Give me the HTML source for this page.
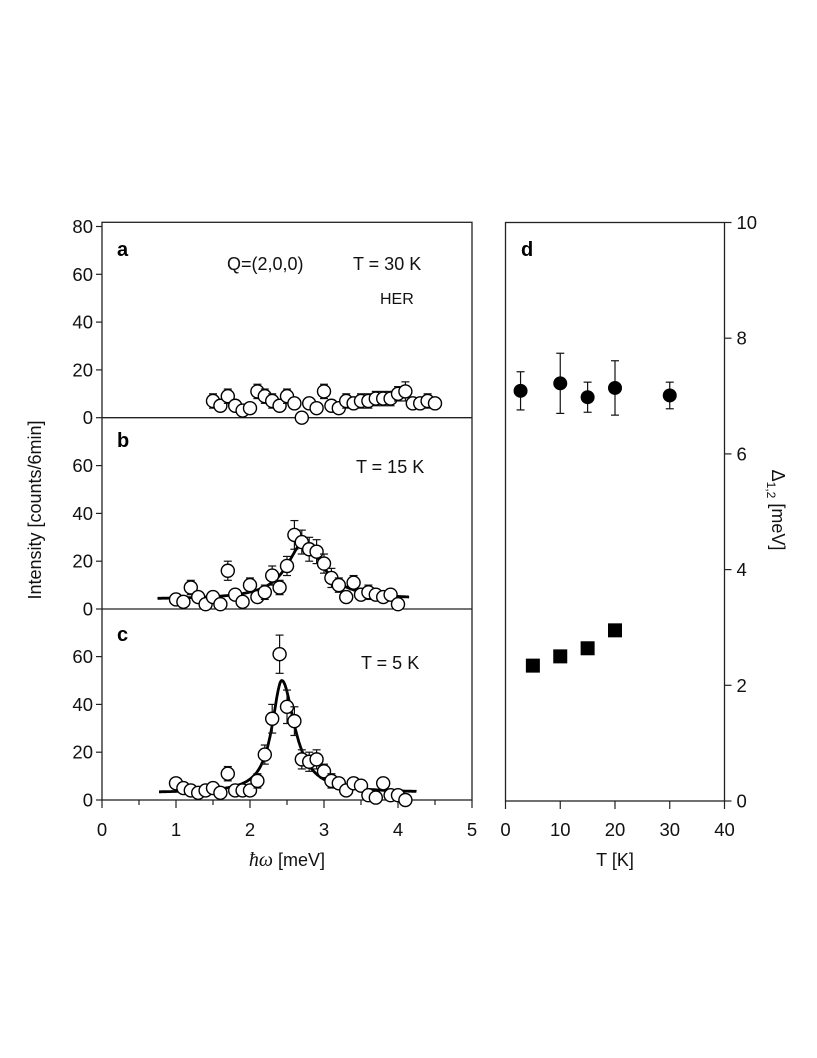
<!DOCTYPE html>
<html><head><meta charset="utf-8"><style>
html,body{margin:0;padding:0;background:#fff;}
svg{display:block;font-family:"Liberation Sans",sans-serif;}
</style></head><body>
<svg id="chart" width="817" height="1058" viewBox="0 0 817 1058" xmlns="http://www.w3.org/2000/svg"></svg>
<script>
// ---- data ----
const aX=[1.5,1.6,1.7,1.8,1.9,2.0,2.1,2.2,2.3,2.4,2.5,2.6,2.7,2.8,2.9,3.0,3.1,3.2,3.3,3.4,3.5,3.6,3.7,3.8,3.9,4.0,4.1,4.2,4.3,4.4,4.5];
const aY=[7,5,9,5,3,4,11,9,7,5,9,6,0,6,4,11,5,4,7,6,7,7,8,8,8,10,11,6,6,7,6];
const aErr=[3,2,3,2,2,2,3,3,3,2,3,2,2,2,2,3,2,2,3,2,3,3,3,3,3,3,4,2,2,3,2];
const bX=[1.0,1.1,1.2,1.3,1.4,1.5,1.6,1.7,1.8,1.9,2.0,2.1,2.2,2.3,2.4,2.5,2.6,2.7,2.8,2.9,3.0,3.1,3.2,3.3,3.4,3.5,3.6,3.7,3.8,3.9,4.0];
const bY=[4,3,9,5,2,5,2,16,6,3,10,5,7,14,9,18,31,28,25,24,19,13,10,5,11,6,7,6,5,6,2];
const bErr=[2,2,3,2,2,2,2,4,2,2,3,2,3,4,3,4,6,5,5,5,4,4,3,2,3,2,3,2,2,2,2];
const cX=[1.0,1.1,1.2,1.3,1.4,1.5,1.6,1.7,1.8,1.9,2.0,2.1,2.2,2.3,2.4,2.5,2.6,2.7,2.8,2.9,3.0,3.1,3.2,3.3,3.4,3.5,3.6,3.7,3.8,3.9,4.0,4.1];
const cY=[7,5,4,3,4,5,3,11,4,4,4,8,19,34,61,39,33,17,16,17,12,8,7,4,7,6,2,1,7,2,2,0];
const cErr=[2,2,2,2,2,2,2,3,2,2,2,3,4,6,8,7,6,4,4,4,3,3,2,2,2,2,2,2,2,2,2,2];
// fit params: [baseline, amplitude, center, hwhmLeft, hwhmRight, xStart, xEnd]
const bFit=[4,24,2.73,0.28,0.3,0.75,4.15];
const cFit=[3,47,2.43,0.16,0.21,0.77,4.25];
const dCircT=[2.75,10,15,20,30];
const dCircV=[7.09,7.22,6.98,7.14,7.01];
const dCircE=[0.33,0.52,0.26,0.47,0.23];
const dSqT=[5,10,15,20];
const dSqV=[2.34,2.5,2.64,2.95];
const xTicks=[0,1,2,3,4,5];
const yTicksI=[0,20,40,60,80];
const tTicks=[0,10,20,30,40];
const dTicks=[0,2,4,6,8,10];

const svg=document.getElementById('chart');
const NS='http://www.w3.org/2000/svg';
function mk(tag,attrs,parent){const e=document.createElementNS(NS,tag);for(const k in attrs)e.setAttribute(k,attrs[k]);(parent||svg).appendChild(e);return e;}

const FS=18.5;
// left geometry
const LX0=102,LX1=472;
const xs=v=>LX0+(v-0)/5*(LX1-LX0);
const panelZero=[417.7,609,800];
const ppu=2.39;
const ysFor=p=>v=>panelZero[p]-v*ppu;
// right geometry
const RX0=505.5,RX1=724.5,RY0=801,RY1=222.5;
const ts=v=>RX0+v/40*(RX1-RX0);
const ds=v=>RY0-v/10*(RY0-RY1);

let f=mk('rect',{x:LX0,y:222.3,width:LX1-LX0,height:800-222.3,fill:'none',stroke:'#222','stroke-width':1.3});

for(const p of [0,1]){let l=mk('line',{x1:LX0,x2:LX1,y1:panelZero[p],y2:panelZero[p],stroke:'#222','stroke-width':1.3});
}
f=mk('rect',{x:RX0,y:RY1,width:RX1-RX0,height:RY0-RY1,fill:'none',stroke:'#222','stroke-width':1.3});


for(let p=0;p<3;p++){const ys=ysFor(p);
 for(const t of yTicksI){ if(p>0&&t===80)continue;
  let l=mk('line',{x1:LX0-6,x2:LX0,y1:ys(t),y2:ys(t),stroke:'#222','stroke-width':1.2});
  
  let tx=mk('text',{x:LX0-9,y:ys(t)+6.5,'text-anchor':'end','font-size':FS,fill:'#111'});tx.textContent=t;
  }
}
for(let v=0;v<=5.001;v+=0.5){
 let major=Math.abs(v-Math.round(v))<0.01;
 let l=mk('line',{x1:xs(v),x2:xs(v),y1:800,y2:800+(major?8:5),stroke:'#222','stroke-width':1.2});
 }
for(const t of xTicks){let tx=mk('text',{x:xs(t),y:836,'text-anchor':'middle','font-size':FS,fill:'#111'});tx.textContent=t;
 }
for(const t of tTicks){let l=mk('line',{x1:ts(t),x2:ts(t),y1:RY0,y2:RY0+8,stroke:'#222','stroke-width':1.2});
 
 let tx=mk('text',{x:ts(t),y:836,'text-anchor':'middle','font-size':FS,fill:'#111'});tx.textContent=t;
 }
for(const t of dTicks){let l=mk('line',{x1:RX1,x2:RX1+7,y1:ds(t),y2:ds(t),stroke:'#222','stroke-width':1.2});
 
 let tx=mk('text',{x:RX1+12,y:ds(t)+6.5,'text-anchor':'start','font-size':FS,fill:'#111'});tx.textContent=t;
 }

function fitPath(fp,p,name){const ys=ysFor(p);let d='';
 for(let x=fp[5];x<=fp[6]+1e-9;x+=0.01){const g=x<fp[2]?fp[3]:fp[4];const y=fp[0]+fp[1]/(1+((x-fp[2])/g)**2);
  d+=(d?'L':'M')+xs(x).toFixed(1)+','+ys(y).toFixed(1);}
 let pth=mk('path',{d:d,fill:'none',stroke:'#000','stroke-width':2.8});
 }
fitPath(bFit,1,'fit-curve-15k');fitPath(cFit,2,'fit-curve-5k');

function openPts(X,Y,E,p,name){const ys=ysFor(p);
 for(let i=0;i<X.length;i++){const cx=xs(X[i]);
  let g=mk('g',{});
  mk('line',{x1:cx,x2:cx,y1:ys(Y[i]-E[i]),y2:ys(Y[i]+E[i]),stroke:'#111','stroke-width':1.2},g);
  for(const s of [-1,1])mk('line',{x1:cx-4,x2:cx+4,y1:ys(Y[i]+s*E[i]),y2:ys(Y[i]+s*E[i]),stroke:'#111','stroke-width':1.2},g);
  mk('circle',{cx:cx,cy:ys(Y[i]),r:6.5,fill:'#fff',stroke:'#000','stroke-width':1.4},g);}}
openPts(aX,aY,aErr,0,'data-point-30k');openPts(bX,bY,bErr,1,'data-point-15k');openPts(cX,cY,cErr,2,'data-point-5k');

for(let i=0;i<dCircT.length;i++){const cx=ts(dCircT[i]);
 let g=mk('g',{});
 mk('line',{x1:cx,x2:cx,y1:ds(dCircV[i]-dCircE[i]),y2:ds(dCircV[i]+dCircE[i]),stroke:'#111','stroke-width':1.2},g);
 for(const s of [-1,1])mk('line',{x1:cx-4,x2:cx+4,y1:ds(dCircV[i]+s*dCircE[i]),y2:ds(dCircV[i]+s*dCircE[i]),stroke:'#111','stroke-width':1.2},g);
 mk('circle',{cx:cx,cy:ds(dCircV[i]),r:7,fill:'#000'},g);}
for(let i=0;i<dSqT.length;i++){let r=mk('rect',{x:ts(dSqT[i])-7,y:ds(dSqV[i])-7,width:14,height:14,fill:'#000'});
 }

function txt(s,attrs,name){let t=mk('text',attrs);t.textContent=s;return t;}
txt('a',{x:117,y:256,'font-size':20,'font-weight':'bold',fill:'#000'},'panel-label-a');
txt('b',{x:117,y:447,'font-size':20,'font-weight':'bold',fill:'#000'},'panel-label-b');
txt('c',{x:117,y:641,'font-size':20,'font-weight':'bold',fill:'#000'},'panel-label-c');
txt('d',{x:521,y:256,'font-size':20,'font-weight':'bold',fill:'#000'},'panel-label-d');
txt('Q=(2,0,0)',{x:227,y:270,'font-size':18,fill:'#111'},'q-vector-label');
txt('T = 30 K',{x:353,y:270,'font-size':18,fill:'#111'},'temp-label-30k');
txt('HER',{x:380,y:304,'font-size':16,fill:'#111'},'instrument-label');
txt('T = 15 K',{x:356,y:473,'font-size':18,fill:'#111'},'temp-label-15k');
txt('T = 5 K',{x:361,y:669,'font-size':18,fill:'#111'},'temp-label-5k');
let xt=mk('text',{x:287,y:866,'text-anchor':'middle','font-size':18,fill:'#111'});
xt.innerHTML='<tspan font-family="Liberation Serif" font-style="italic" font-size="20">ħω</tspan> [meV]';

txt('T [K]',{x:615,y:866,'text-anchor':'middle','font-size':18,fill:'#111'},'t-axis-title');
txt('Intensity [counts/6min]',{x:0,y:0,'text-anchor':'middle','font-size':18,fill:'#111',transform:'translate(41,510) rotate(-90)'},'y-axis-title');
let rt=mk('text',{x:0,y:0,'text-anchor':'middle','font-size':18,fill:'#111',transform:'translate(772,510) rotate(90)'});
rt.innerHTML='Δ<tspan font-size="12" dy="5">1,2</tspan><tspan dy="-5"> [meV]</tspan>';

</script>
</body></html>
